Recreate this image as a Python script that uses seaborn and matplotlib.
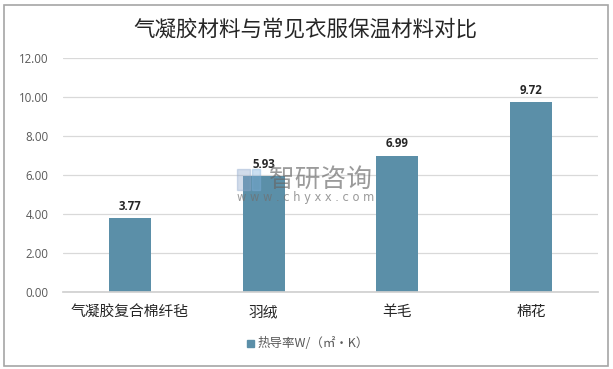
import matplotlib
matplotlib.use("Agg")
import matplotlib.pyplot as plt
import matplotlib.patches as mpatches
import pandas as pd
import seaborn as sns

categories = ["气凝胶复合棉纤毡", "羽绒", "羊毛", "棉花"]
values = [3.77, 5.93, 6.99, 9.72]
yticks = [0, 2, 4, 6, 8, 10, 12]
title = "气凝胶材料与常见衣服保温材料对比"
series_name = "热导率W/（㎡•K）"

sns.set_theme(style="white")
plt.rcParams["font.family"] = ["Noto Sans CJK SC", "DejaVu Sans"]

W, H = 613, 369
fig = plt.figure(figsize=(W / 100, H / 100), dpi=100)
ax = fig.add_axes([63 / W, 1 - 292 / H, 535 / W, 234 / H])

df = pd.DataFrame({"cat": categories, "val": values})
sns.barplot(data=df, x="cat", y="val", color="#5b8fa8", saturation=1, width=0.315, linewidth=0, ax=ax, zorder=2)

ax.set_ylim(0, 12)
ax.set_xlim(-0.5, 3.5)
ax.set_yticks(yticks)
ax.set_yticklabels([f"{v:.2f}" for v in yticks], fontsize=8.3, color="#595959", family=["Open Sans"])
ax.set_xlabel("")
ax.set_ylabel("")
ax.tick_params(axis="x", labelsize=10.6, labelcolor="#262626", length=0, pad=9.5)
for lab in ax.get_xticklabels():
    lab.set_fontweight("medium")
ax.tick_params(axis="y", length=0, pad=10.5)
ax.grid(axis="y", color="#d9d9d9", lw=0.9, zorder=0)
sns.despine(ax=ax, left=True, top=True, right=True)
ax.spines["bottom"].set_color("#d0d0d0")

for i, v in enumerate(values):
    ax.text(i, v + 0.27, f"{v:.2f}", ha="center", va="bottom", fontsize=8.3,
            fontweight="bold", color="#262626", family=["Open Sans"], zorder=5)

fig.text(305 / W, 1 - 29 / H, title, ha="center", va="center", fontsize=15.5,
         color="#262626", fontweight="medium")

# 图例
fig.add_artist(mpatches.Rectangle((247 / W, 1 - 347 / H), 7 / W, 7 / H, color="#5b8fa8",
                                  transform=fig.transFigure))
fig.text(258 / W, 1 - 343 / H, series_name, ha="left", va="center", fontsize=9, color="#595959")

# 水印
fig.add_artist(mpatches.Rectangle((237 / W, 1 - 190 / H), 13 / W, 21 / H, color="#8fa8cc", alpha=0.4,
                                  transform=fig.transFigure, zorder=6))
fig.add_artist(mpatches.Rectangle((252 / W, 1 - 190 / H), 8 / W, 21 / H, color="#7fb0dc", alpha=0.4,
                                  transform=fig.transFigure, zorder=6))
fig.text(269 / W, 1 - 180 / H, "智研咨询", ha="left", va="center", fontsize=18.5, color="#666666",
         alpha=0.65, zorder=6)
fig.text(237 / W, 1 - 198 / H, "w w w . c h y x x . c o m", ha="left", va="center", fontsize=8.3, color="#707070",
         alpha=0.7, zorder=6, family=["DejaVu Sans"])

# 外框
fig.add_artist(mpatches.Rectangle((3.5 / W, 1 - 365.5 / H), 604 / W, 361 / H, fill=False, ec="#a6a6a6", lw=1.2,
                                  transform=fig.transFigure))

fig.savefig("out.png", dpi=100)
